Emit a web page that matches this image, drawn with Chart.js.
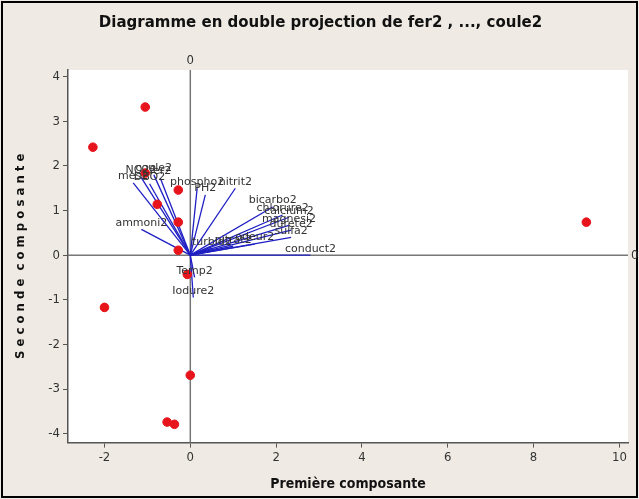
<!DOCTYPE html>
<html>
<head>
<meta charset="utf-8">
<script src="https://cdn.jsdelivr.net/npm/chart.js@4/dist/chart.umd.min.js"></script>
<style>
  html, body { margin: 0; padding: 0; background: #efebe4; }
  #wrap { width: 639px; height: 499px; }
</style>
</head>
<body>
<div id="wrap"><canvas id="biplot"></canvas></div>
<script>
// Observation scores
const scoreX = [-2.27, -1.05, -2.0, -1.05, -0.28, -0.77, -0.28, -0.28, -0.07, 0.0, -0.54, -0.37, 9.23];
const scoreY = [2.42, 3.32, -1.17, 1.84, 1.46, 1.14, 0.74, 0.11, -0.43, -2.69, -3.74, -3.79, 0.74];

// Variable loadings (vectors from origin)
const varNames = ['coule2', 'NO22', 'mes2', 'fer2', 'DBO2', 'ammoni2', 'phospho2', 'PH2', 'nitrit2',
    'bicarbo2', 'chlorure2', 'calcium2', 'magnesi2', 'dureté2', 'sulfa2', 'conduct2',
    'turbid2', 'nitrat2', 'odeur2', 'Temp2', 'Iodure2'];
const loadX = [-0.85, -1.15, -1.33, -0.7, -0.95, -1.14, 0.16, 0.35, 1.05,
    1.92, 2.15, 2.3, 2.3, 2.35, 2.35, 2.8, 0.5, 1.0, 1.5, 0.1, 0.07];
const loadY = [1.8, 1.75, 1.62, 1.73, 1.6, 0.58, 1.5, 1.35, 1.5,
    1.08, 0.9, 0.85, 0.67, 0.56, 0.4, 0.0, 0.15, 0.2, 0.25, -0.5, -0.95];

const xTicks = [-2, 0, 2, 4, 6, 8, 10];
const yTicks = [-4, -3, -2, -1, 0, 1, 2, 3, 4];

const vectorSets = varNames.map((name, i) => ({
    label: name,
    type: 'line',
    data: [{ x: 0, y: 0 }, { x: loadX[i], y: loadY[i] }],
    borderColor: '#1f1fc4',
    borderWidth: 1.3,
    pointRadius: 0,
    fill: false
}));

const framePlugin = {
    id: 'frame',
    beforeDraw(chart) {
        const { ctx, chartArea: a } = chart;
        ctx.save();
        ctx.fillStyle = '#efebe4';
        ctx.fillRect(0, 0, chart.width, chart.height);
        ctx.strokeStyle = '#000';
        ctx.lineWidth = 2;
        ctx.strokeRect(2, 2, chart.width - 4, chart.height - 4);
        ctx.fillStyle = '#fff';
        ctx.fillRect(a.left, a.top, a.right - a.left, a.bottom - a.top);
        ctx.restore();
    },
    beforeDatasetsDraw(chart) {
        const { ctx, chartArea: a, scales } = chart;
        const x0 = scales.x.getPixelForValue(0);
        const y0 = scales.y.getPixelForValue(0);
        ctx.save();
        ctx.strokeStyle = '#777';
        ctx.lineWidth = 1.5;
        ctx.beginPath();
        ctx.moveTo(x0, a.top); ctx.lineTo(x0, a.bottom);
        ctx.moveTo(a.left, y0); ctx.lineTo(a.right, y0);
        ctx.stroke();
        ctx.fillStyle = '#333';
        ctx.font = '13px "DejaVu Sans Condensed", sans-serif';
        ctx.textAlign = 'center';
        ctx.textBaseline = 'bottom';
        ctx.fillText('0', x0, a.top - 3);
        ctx.textAlign = 'left';
        ctx.textBaseline = 'middle';
        ctx.fillText('0', a.right + 3, y0);
        ctx.restore();
    },
    afterDatasetsDraw(chart) {
        const { ctx, scales } = chart;
        ctx.save();
        ctx.fillStyle = '#333';
        ctx.font = '11px "DejaVu Sans", sans-serif';
        ctx.textAlign = 'center';
        ctx.textBaseline = 'bottom';
        varNames.forEach((name, i) => {
            const px = scales.x.getPixelForValue(loadX[i]);
            const py = scales.y.getPixelForValue(loadY[i]);
            ctx.fillText(name, px, py - 1);
        });
        ctx.restore();
    }
};

const ctx = document.getElementById('biplot').getContext('2d');
new Chart(ctx, {
    type: 'scatter',
    data: {
        datasets: [{
            label: 'scores',
            data: scoreX.map((x, i) => ({ x: x, y: scoreY[i] })),
            backgroundColor: '#e8141c',
            borderColor: '#e8141c',
            pointRadius: 4.3,
            pointHoverRadius: 4.3
        }, ...vectorSets]
    },
    options: {
        responsive: true,
        maintainAspectRatio: false,
        animation: false,
        events: [],
        layout: { padding: { top: 4, right: 11, left: 13, bottom: 6 } },
        plugins: {
            legend: { display: false },
            tooltip: { enabled: false },
            title: {
                display: true,
                text: 'Diagramme en double projection de fer2 , ..., coule2',
                color: '#111',
                font: { family: '"DejaVu Sans", sans-serif', size: 15, weight: 'bold' },
                padding: { top: 10, bottom: 38 }
            }
        },
        scales: {
            x: {
                type: 'linear',
                min: -2.85,
                max: 10.2,
                afterBuildTicks: s => { s.ticks = xTicks.map(v => ({ value: v })); },
                border: { display: true, color: '#555', width: 1.5 },
                grid: { drawOnChartArea: false, tickLength: 5, color: '#555' },
                ticks: { color: '#333', font: { family: '"DejaVu Sans Condensed", sans-serif', size: 13 }, padding: 2 },
                title: {
                    display: true,
                    text: 'Première composante',
                    color: '#111',
                    font: { family: '"DejaVu Sans Condensed", sans-serif', size: 14, weight: 'bold' },
                    padding: { top: 9, bottom: 0 }
                }
            },
            y: {
                type: 'linear',
                min: -4.2,
                max: 4.15,
                afterBuildTicks: s => { s.ticks = yTicks.map(v => ({ value: v })); },
                afterFit: s => { s.width = 55; },
                border: { display: true, color: '#555', width: 1.5 },
                grid: { drawOnChartArea: false, tickLength: 5, color: '#555' },
                ticks: { color: '#333', font: { family: '"DejaVu Sans Condensed", sans-serif', size: 13 }, padding: 3 },
                title: {
                    display: true,
                    text: 'S e c o n d e  c o m p o s a n t e',
                    color: '#111',
                    font: { family: '"DejaVu Sans Condensed", sans-serif', size: 13, weight: 'bold' },
                    padding: { top: 0, bottom: 4 }
                }
            }
        }
    },
    plugins: [framePlugin]
});
</script>
</body>
</html>
